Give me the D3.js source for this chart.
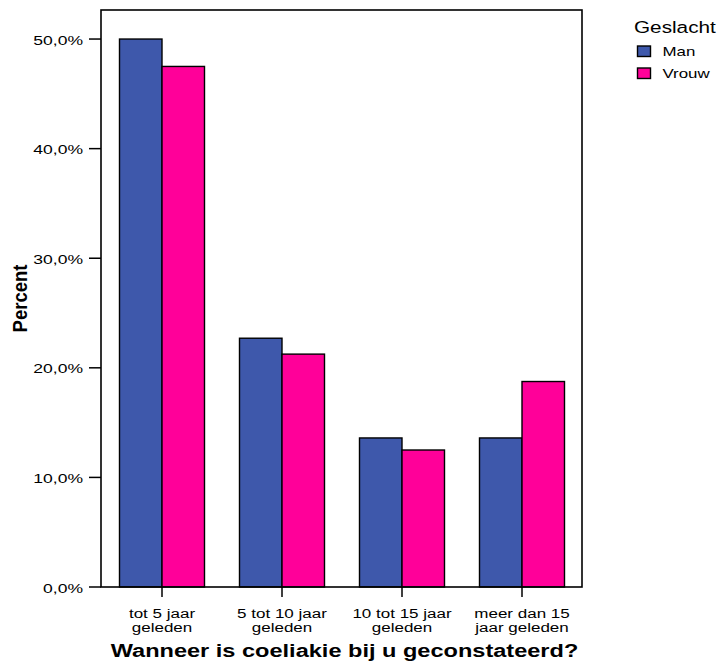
<!DOCTYPE html>
<html>
<head>
<meta charset="utf-8">
<script src="https://cdn.jsdelivr.net/npm/d3@7"></script>
<style>
  html, body { margin: 0; padding: 0; background: #fff; }
  svg { display: block; font-family: Arial, "Liberation Sans", Helvetica, sans-serif; }
</style>
</head>
<body>
<svg id="chart" width="720" height="664"></svg>
<script>
// ---- data ----
const categories = ["tot 5 jaar geleden", "5 tot 10 jaar geleden", "10 tot 15 jaar geleden", "meer dan 15 jaar geleden"];
const categoryLines = [["tot 5 jaar", "geleden"], ["5 tot 10 jaar", "geleden"], ["10 tot 15 jaar", "geleden"], ["meer dan 15", "jaar geleden"]];
const seriesNames = ["Man", "Vrouw"];
const manValues = [50.0, 22.7, 13.6, 13.6];
const vrouwValues = [47.5, 21.25, 12.5, 18.75];
const yTicks = [0, 10, 20, 30, 40, 50];
const colors = ["#3e58ab", "#ff0099"];
const legendTitle = "Geslacht";
const xTitle = "Wanneer is coeliakie bij u geconstateerd?";
const yTitle = "Percent";

// ---- layout ----
const svg = d3.select("#chart");
const pLeft = 101, pRight = 582, pTop = 10, pBottom = 587;
const SX = 1.25; // horizontal stretch of text in reference

const x = d3.scaleBand().domain(categories).range([102, pRight]).padding(0);
const y = d3.scaleLinear().domain([0, 52.65]).range([pBottom, pTop]);
const barW = 42.5;
const color = d3.scaleOrdinal().domain(seriesNames).range(colors);

const rows = categories.map((c, i) => ({ cat: c, values: [
  { s: "Man", v: manValues[i] }, { s: "Vrouw", v: vrouwValues[i] }
]}));

function stretchedText(parent, tx, ty, str, opts) {
  const g = parent.append("g").attr("transform", `translate(${tx},${ty}) scale(${opts.sx || SX},1)` + (opts.rotate ? ` rotate(${opts.rotate})` : ""));
  return g.append("text")
    .attr("x", 0).attr("y", 0)
    .attr("text-anchor", opts.anchor || "start")
    .attr("font-size", opts.size)
    .attr("font-weight", opts.weight || "normal")
    .attr("fill", "#000")
    .text(str);
}

// bars
const groups = svg.append("g").selectAll("g").data(rows).join("g");
groups.each(function(d) {
  const cx = x(d.cat) + x.bandwidth() / 2;
  const inner = d3.scaleBand().domain(seriesNames).range([cx - barW, cx + barW]);
  d3.select(this).selectAll("rect").data(d.values).join("rect")
    .attr("x", e => inner(e.s))
    .attr("width", inner.bandwidth())
    .attr("y", e => y(e.v))
    .attr("height", e => y(0) - y(e.v))
    .attr("fill", e => color(e.s))
    .attr("stroke", "#000")
    .attr("stroke-width", 1.4);
});

// frame
svg.append("rect")
  .attr("x", pLeft).attr("y", pTop)
  .attr("width", pRight - pLeft).attr("height", pBottom - pTop)
  .attr("fill", "none").attr("stroke", "#000").attr("stroke-width", 1.6);

// y axis ticks + labels
const yAxis = svg.append("g");
yTicks.forEach(t => {
  yAxis.append("line")
    .attr("x1", pLeft - 12).attr("x2", pLeft)
    .attr("y1", y(t)).attr("y2", y(t))
    .attr("stroke", "#000").attr("stroke-width", 1.5);
  stretchedText(yAxis, pLeft - 18, y(t) + 5.5, d3.format(".1f")(t).replace(".", ",") + "%", { size: 13.5, anchor: "end", sx: 1.3 });
});

// x axis ticks + labels
const xAxis = svg.append("g");
categories.forEach((c, i) => {
  const cx = x(c) + x.bandwidth() / 2;
  xAxis.append("line")
    .attr("x1", cx).attr("x2", cx)
    .attr("y1", pBottom).attr("y2", pBottom + 10)
    .attr("stroke", "#000").attr("stroke-width", 1.5);
  categoryLines[i].forEach((ln, j) => {
    stretchedText(xAxis, cx, 617.5 + j * 14.5, ln, { size: 13.5, anchor: "middle", sx: 1.26 });
  });
});

// axis titles
stretchedText(svg, (pLeft + pRight) / 2 + 3, 656.5, xTitle, { size: 19, weight: "bold", anchor: "middle", sx: 1.24 });
stretchedText(svg, 27, (pTop + pBottom) / 2, yTitle, { size: 18.5, weight: "bold", anchor: "middle", rotate: -90, sx: 1.12 });

// legend
const legend = svg.append("g");
stretchedText(legend, 634, 32.5, legendTitle, { size: 17, anchor: "start", sx: 1.22 });
seriesNames.forEach((s, i) => {
  legend.append("rect")
    .attr("x", 637.5).attr("y", 46 + i * 22)
    .attr("width", 13).attr("height", 10.5)
    .attr("fill", color(s)).attr("stroke", "#000").attr("stroke-width", 1.4);
  stretchedText(legend, 662.5, 55.5 + i * 22, s, { size: 13.5, anchor: "start" });
});
</script>
</body>
</html>
